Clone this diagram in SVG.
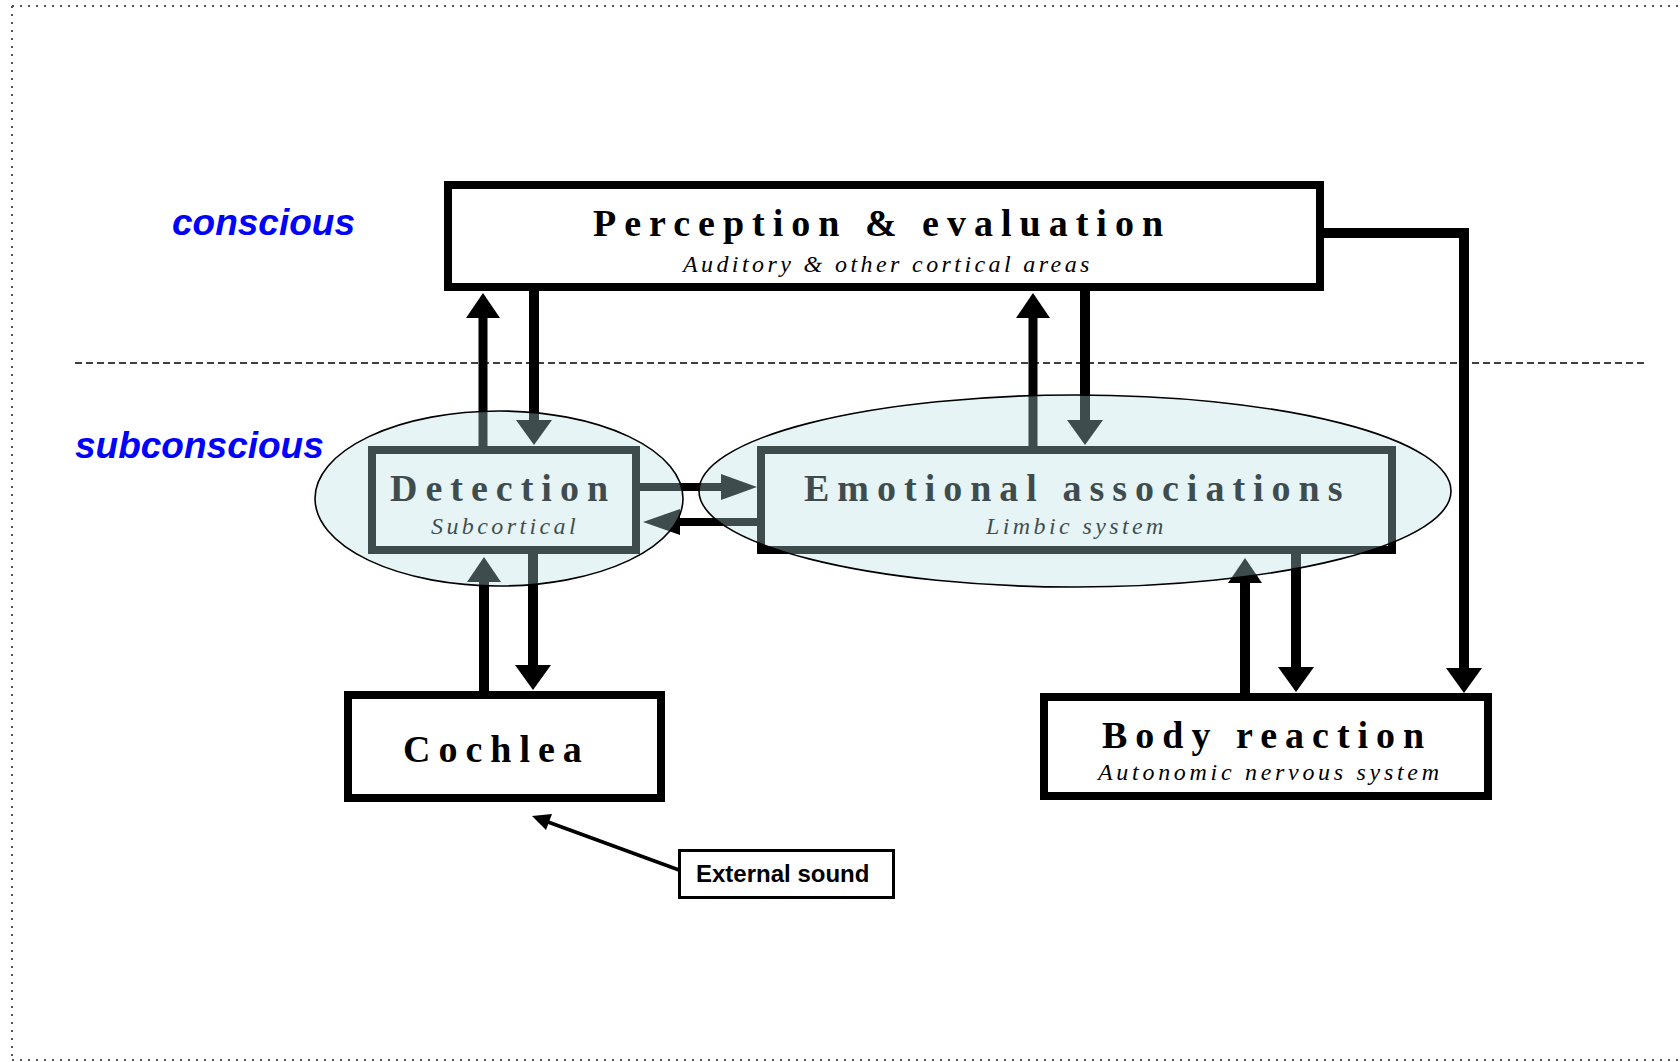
<svg xmlns="http://www.w3.org/2000/svg" xmlns:xlink="http://www.w3.org/1999/xlink" width="1680" height="1062" viewBox="0 0 1680 1062">
<style>
.box{fill:#fff;stroke:#000;stroke-width:8}
.ttl{font-family:"Liberation Serif","Times New Roman",serif;font-weight:bold;font-size:38px;letter-spacing:8px;fill:#000}
.sub{font-family:"Liberation Serif","Times New Roman",serif;font-style:italic;font-size:24px;letter-spacing:3.4px;fill:#000}
.lvl{font-family:"Liberation Sans",Arial,sans-serif;font-weight:bold;font-style:italic;font-size:37px;fill:#0000ff}
.shaft{stroke:#000;stroke-width:10;fill:none}
.thin{stroke:#000;stroke-width:8;fill:none}
.head{fill:#000}
.region{fill:rgb(182,224,230);fill-opacity:0.34;stroke:#000;stroke-width:1.6}
.frame{stroke:#555;stroke-width:2;stroke-dasharray:2 6;fill:none}
</style>
<defs>
<path id="hDown" d="M-18,0 L18,0 L0,25 Z"/>
<path id="hUp" d="M-17,0 L17,0 L0,-25 Z"/>
<path id="hRight" d="M0,-13 L0,13 L36,0 Z"/>
<path id="hLeft" d="M0,-13 L0,13 L-37,0 Z"/>
</defs>
<rect width="1680" height="1062" fill="#fff"/>
<g id="frame">
<path class="frame" d="M12,6 H1680 M12,6 V1060 M12,1060 H1680"/>
</g>
<g id="levels">
<text class="lvl" x="172" y="235">conscious</text>
<text class="lvl" x="75" y="458">subconscious</text>
<line x1="75" y1="363" x2="1645" y2="363" stroke="#000" stroke-width="1.5" stroke-dasharray="7 4"/>
</g>
<g id="connectors">
<line class="shaft" x1="483" y1="446" x2="483" y2="316" style="stroke-width:9"/>
<use href="#hUp" xlink:href="#hUp" class="head" transform="translate(483,318)"/>
<line class="shaft" x1="534" y1="290" x2="534" y2="422"/>
<use href="#hDown" xlink:href="#hDown" class="head" transform="translate(534,420)"/>
<line class="shaft" x1="1033" y1="446" x2="1033" y2="316" style="stroke-width:9"/>
<use href="#hUp" xlink:href="#hUp" class="head" transform="translate(1033,318)"/>
<line class="shaft" x1="1085" y1="290" x2="1085" y2="422"/>
<use href="#hDown" xlink:href="#hDown" class="head" transform="translate(1085,420)"/>
<line class="thin" x1="640" y1="487" x2="723" y2="487"/>
<use href="#hRight" xlink:href="#hRight" class="head" transform="translate(721,487)"/>
<line class="thin" x1="757" y1="522" x2="678" y2="522"/>
<use href="#hLeft" xlink:href="#hLeft" class="head" transform="translate(680,522)"/>
<line class="shaft" x1="484" y1="692" x2="484" y2="580"/>
<use href="#hUp" xlink:href="#hUp" class="head" transform="translate(484,582)"/>
<line class="shaft" x1="533" y1="554" x2="533" y2="667"/>
<use href="#hDown" xlink:href="#hDown" class="head" transform="translate(533,665)"/>
<line class="shaft" x1="1245" y1="693" x2="1245" y2="581"/>
<use href="#hUp" xlink:href="#hUp" class="head" transform="translate(1245,583)"/>
<line class="shaft" x1="1296" y1="554" x2="1296" y2="669"/>
<use href="#hDown" xlink:href="#hDown" class="head" transform="translate(1296,667)"/>
<path class="shaft" d="M1320,233 H1464 V670"/>
<use href="#hDown" xlink:href="#hDown" class="head" transform="translate(1464,668)"/>
<line x1="679" y1="870" x2="548" y2="822" stroke="#000" stroke-width="3.5"/>
<path class="head" d="M532,816 L552,814 L546,830 Z"/>
</g>
<g id="perception">
<rect class="box" x="448" y="185" width="872" height="102"/>
<text class="ttl" x="593" y="236">Perception &amp; evaluation</text>
<text class="sub" x="683" y="272">Auditory &amp; other cortical areas</text>
</g>
<g id="detection">
<rect class="box" x="372" y="450" width="264" height="100"/>
<text class="ttl" x="390" y="501">Detection</text>
<text class="sub" x="431" y="534">Subcortical</text>
</g>
<g id="emotional">
<rect class="box" x="761" y="450" width="631" height="100"/>
<text class="ttl" x="804" y="501">Emotional associations</text>
<text class="sub" x="986" y="534">Limbic system</text>
</g>
<g id="cochlea">
<rect class="box" x="348" y="695" width="313" height="103"/>
<text class="ttl" x="403" y="762">Cochlea</text>
</g>
<g id="body">
<rect class="box" x="1044" y="697" width="444" height="99"/>
<text class="ttl" x="1102" y="748">Body reaction</text>
<text class="sub" x="1098" y="780" style="letter-spacing:3.7px">Autonomic nervous system</text>
</g>
<g id="external">
<rect x="679.5" y="850.5" width="214" height="47" fill="#fff" stroke="#000" stroke-width="3"/>
<text x="696" y="882" font-family="'Liberation Sans',Arial,sans-serif" font-weight="bold" font-size="24" fill="#000">External sound</text>
</g>
<g id="regions">
<ellipse class="region" cx="499" cy="498.5" rx="184" ry="87.5"/>
<ellipse class="region" cx="1075" cy="491" rx="376" ry="96"/>
</g>
</svg>
